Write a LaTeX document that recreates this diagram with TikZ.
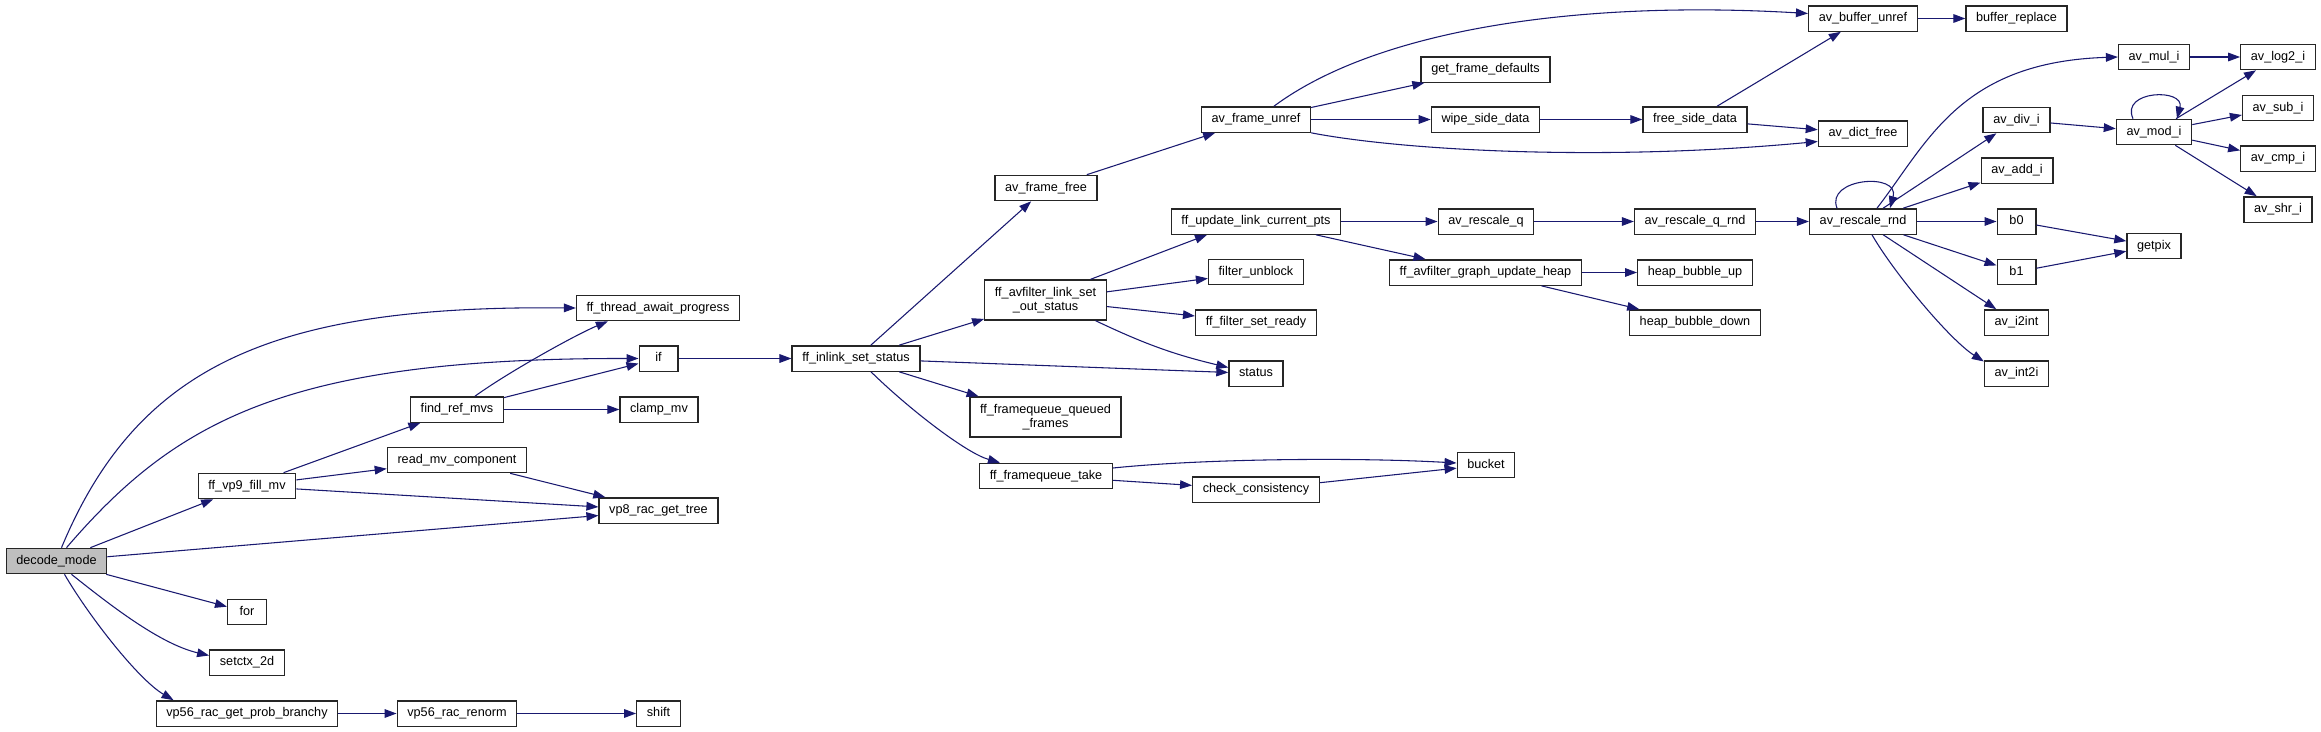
\documentclass[tikz,border=0pt]{standalone}
\usepackage{fontspec}
\setmainfont{Liberation Sans}
\usetikzlibrary{arrows.meta,calc}
\definecolor{edgeblue}{HTML}{191970}
\definecolor{callergray}{HTML}{BFBFBF}
\tikzset{
	fbase/.style={draw=black!85, line width=1pt, fill=white, rectangle, inner xsep=7.6pt, inner ysep=0pt,
		minimum width=29pt, font=\fontsize{9.5}{11}\selectfont},
	fn/.style={fbase, minimum height=19pt, text height=7pt, text depth=2.2pt},
	fntwo/.style={fbase, minimum height=30pt, align=center},
	call/.style={draw=edgeblue, line width=0.8pt, -{Triangle[length=9pt,width=6.5pt]}},
}
\begin{document}
\begin{tikzpicture}[x=0.75pt, y=-0.75pt]
	\fill[white] (0,0) rectangle (2321,732);
	\useasboundingbox (0,0) rectangle (2321,732);
	%decode_mode and its direct callees
	\node[fn, fill=callergray] (dm) at (56.5,561) {decode\_mode};
	\node[fn] (fvfm) at (247,486) {ff\_vp9\_fill\_mv};
	\node[fn] (forn) at (247,612) {for};
	\node[fn] (sctx) at (247,662.5) {setctx\_2d};
	\node[fn] (vgpb) at (247,713.5) {vp56\_rac\_get\_prob\_branchy};
	\node[fn] (frm) at (457,409.5) {find\_ref\_mvs};
	\node[fn] (rmvc) at (457,460) {read\_mv\_component};
	\node[fn] (vrr) at (457,713.5) {vp56\_rac\_renorm};
	\node[fn] (ftap) at (658,308) {ff\_thread\_await\_progress};
	\node[fn] (fif) at (658.5,358.5) {if};
	\node[fn] (clmv) at (659,409.5) {clamp\_mv};
	\node[fn] (vrgt) at (658.5,510.5) {vp8\_rac\_get\_tree};
	\node[fn] (shft) at (658.5,713.5) {shift};
	%filter side
	\node[fn] (fiss) at (856,358.5) {ff\_inlink\_set\_status};
	\node[fn] (aff) at (1046,188) {av\_frame\_free};
	\node[fntwo] (lso) at (1045.5,300) {ff\_avfilter\_link\_set\\\_out\_status};
	\node[fntwo] (fqq) at (1045.5,417) {ff\_framequeue\_queued\\\_frames};
	\node[fn] (fqt) at (1046,476) {ff\_framequeue\_take};
	\node[fn] (afu) at (1256,119.5) {av\_frame\_unref};
	\node[fn] (ulc) at (1256,221.5) {ff\_update\_link\_current\_pts};
	\node[fn] (fub) at (1256,272) {filter\_unblock};
	\node[fn] (fsr) at (1256,322.5) {ff\_filter\_set\_ready};
	\node[fn] (sts) at (1256,373.5) {status};
	\node[fn] (chk) at (1256,489.5) {check\_consistency};
	\node[fn] (gfd) at (1485.5,69.5) {get\_frame\_defaults};
	\node[fn] (wsd) at (1485.5,119.5) {wipe\_side\_data};
	\node[fn] (arq) at (1486,221.5) {av\_rescale\_q};
	\node[fn] (guh) at (1485.5,272.5) {ff\_avfilter\_graph\_update\_heap};
	\node[fn] (bkt) at (1486,465) {bucket};
	\node[fn] (fsd) at (1695,119.5) {free\_side\_data};
	\node[fn] (arqr) at (1695,221.5) {av\_rescale\_q\_rnd};
	\node[fn] (hbu) at (1695,272.5) {heap\_bubble\_up};
	\node[fn] (hbd) at (1695,322.5) {heap\_bubble\_down};
	%integer maths
	\node[fn] (abu) at (1863,18.5) {av\_buffer\_unref};
	\node[fn] (adf) at (1863,133.5) {av\_dict\_free};
	\node[fn] (arr) at (1863,221.5) {av\_rescale\_rnd};
	\node[fn] (brp) at (2016.5,18.5) {buffer\_replace};
	\node[fn] (adiv) at (2016.5,120) {av\_div\_i};
	\node[fn] (aadd) at (2017,170.5) {av\_add\_i};
	\node[fn] (bz) at (2016.5,221.5) {b0};
	\node[fn] (bo) at (2016.5,272) {b1};
	\node[fn] (ai2) at (2016.5,322.5) {av\_i2int};
	\node[fn] (ain) at (2016.5,373.5) {av\_int2i};
	\node[fn] (amul) at (2154,57) {av\_mul\_i};
	\node[fn] (amod) at (2154,132) {av\_mod\_i};
	\node[fn] (gpx) at (2154,246) {getpix};
	\node[fn] (alog) at (2278,57) {av\_log2\_i};
	\node[fn] (asub) at (2278,108) {av\_sub\_i};
	\node[fn] (acmp) at (2278,158.5) {av\_cmp\_i};
	\node[fn] (ashr) at (2278,209.5) {av\_shr\_i};

	%calls from decode_mode
	\draw[call] ($(dm.north)+(5,0)$) .. controls (138,364) and (275,305) .. (ftap.west);
	\draw[call] ($(dm.north)+(10,0)$) .. controls (177,419) and (289,358) .. (fif.west);
	\draw[call] (dm) -- (fvfm);
	\draw[call] (dm) -- (vrgt);
	\draw[call] (dm) -- (forn);
	\draw[call] ($(dm.south)+(15,0)$) .. controls (110,605) and (160,644) .. ($(sctx.west)+(0,-7)$);
	\draw[call] ($(dm.south)+(8,0)$) .. controls (90,618) and (139,680) .. ($(vgpb.north west)+(18,0)$);
	\draw[call] (fvfm) -- (frm);
	\draw[call] (fvfm) -- (rmvc);
	\draw[call] (fvfm) -- (vrgt);
	\draw[call] (rmvc) -- (vrgt);
	\draw[call] ($(frm.north)+(18,0)$) .. controls (507,373) and (575,335) .. ($(ftap.south west)+(32,0)$);
	\draw[call] (frm) -- (fif);
	\draw[call] (frm) -- (clmv);
	\draw[call] (vgpb) -- (vrr);
	\draw[call] (vrr) -- (shft);
	\draw[call] (fif) -- (fiss);
	%ff_inlink_set_status
	\draw[call] (fiss) -- (aff);
	\draw[call] (fiss) -- (lso);
	\draw[call] (fiss) -- (sts);
	\draw[call] (fiss) -- (fqq);
	\draw[call] ($(fiss.south)+(15,0)$) .. controls (909,409) and (966,453) .. ($(fqt.north west)+(21,0)$);
	\draw[call] (aff) -- (afu);
	\draw[call] ($(lso.north)+(45,0)$) -- ($(ulc.south)+(-49,0)$);
	\draw[call] (lso) -- (fub);
	\draw[call] (lso) -- (fsr);
	\draw[call] ($(lso.south)+(50,0)$) to[bend right=6] (sts);
	\draw[call] ($(fqt.east)+(0,-8)$) .. controls (1200,459) and (1350,457) .. ($(bkt.west)+(0,-2)$);
	\draw[call] (fqt) -- (chk);
	\draw[call] (chk) -- (bkt);
	%av_frame_unref
	\draw[call] ($(afu.north)+(18,0)$) .. controls (1378,29) and (1580,0) .. ($(abu.west)+(0,-5)$);
	\draw[call] (afu) -- (gfd);
	\draw[call] (afu) -- (wsd);
	\draw[call] (afu.south east) .. controls (1400,150) and (1600,162) .. ($(adf.west)+(0,8)$);
	\draw[call] (wsd) -- (fsd);
	\draw[call] (fsd) -- (abu);
	\draw[call] (fsd) -- (adf);
	\draw[call] (abu) -- (brp);
	%rescaling
	\draw[call] (ulc) -- (arq);
	\draw[call] (ulc) -- (guh);
	\draw[call] (guh) -- (hbu);
	\draw[call] (guh) -- (hbd);
	\draw[call] (arq) -- (arqr);
	\draw[call] (arqr) -- (arr);
	\draw[call] ($(arr.north)+(-26,0)$) .. controls (1825,178) and (1900,172) .. ($(arr.north)+(27,0)$);
	\draw[call] ($(arr.north)+(14,0)$) .. controls (1928,142) and (1960,62) .. (amul.west);
	\draw[call] (arr) -- (adiv);
	\draw[call] (arr) -- (aadd);
	\draw[call] (arr) -- (bz);
	\draw[call] (arr) -- (bo);
	\draw[call] (arr) -- (ai2);
	\draw[call] ($(arr.south)+(9,0)$) .. controls (1894,273) and (1950,340) .. ($(ain.west)+(0,-12)$);
	\draw[call] (bz) -- (gpx);
	\draw[call] (bo) -- (gpx);
	%integer ops
	\draw[call] (amul) -- (alog);
	\draw[call] (adiv) -- (amod);
	\draw[call] ($(amod.north)+(-21,0)$) .. controls (2120,90) and (2185,88) .. ($(amod.north)+(23,0)$);
	\draw[call] (amod) -- (alog);
	\draw[call] (amod) -- (asub);
	\draw[call] (amod) -- (acmp);
	\draw[call] (amod) -- (ashr);
\end{tikzpicture}
\end{document}
